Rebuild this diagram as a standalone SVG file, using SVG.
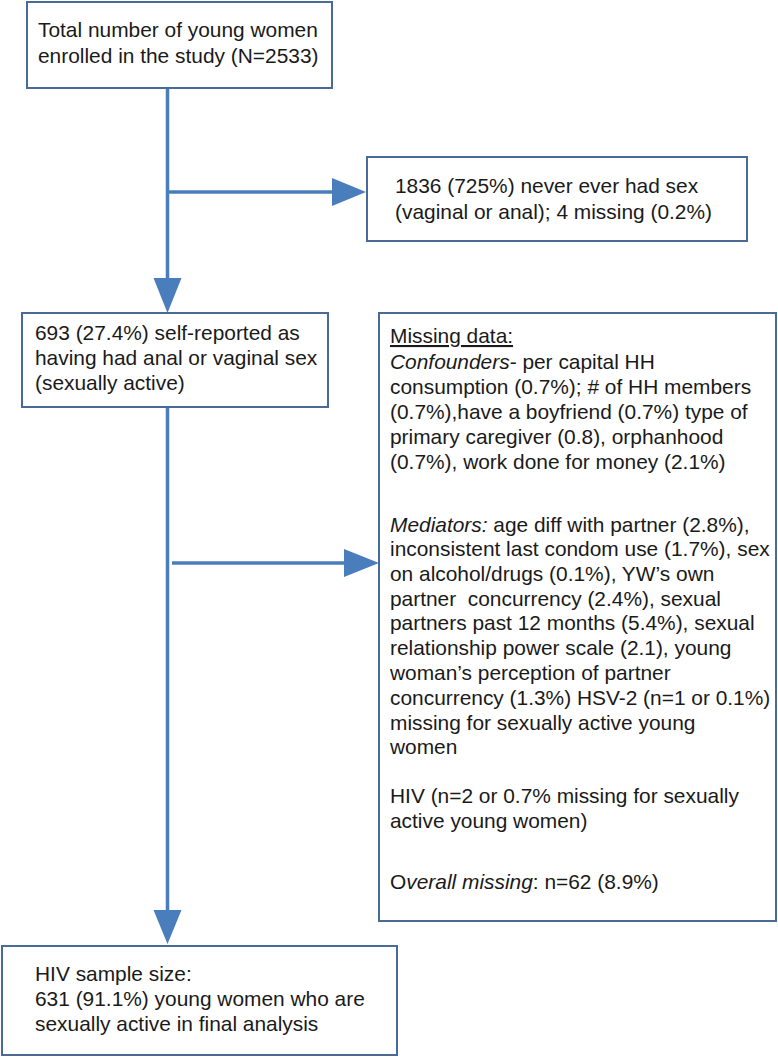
<svg xmlns="http://www.w3.org/2000/svg" width="778" height="1058" viewBox="0 0 778 1058">
<style>
.box{fill:#ffffff;stroke:#4a6b98;stroke-width:2}
.t{font-family:"Liberation Sans",Arial,sans-serif;font-size:20.9px;fill:#1a1a1a;white-space:pre}
.i{font-style:italic}
.ln{stroke:#4a7dbb;stroke-width:3.5;fill:none}
.ah{fill:#4a7dbb}
</style>
<rect width="778" height="1058" fill="#ffffff"/>
<g id="connectors">
<line class="ln" x1="167.5" y1="88" x2="167.5" y2="282"/>
<polygon class="ah" points="153.5,278 181.5,278 167.5,313"/>
<line class="ln" x1="168" y1="192" x2="336" y2="192"/>
<polygon class="ah" points="332,178 332,206 366,192"/>
<line class="ln" x1="167.5" y1="407" x2="167.5" y2="914"/>
<polygon class="ah" points="153.5,910 181.5,910 167.5,944"/>
<line class="ln" x1="172" y1="563" x2="348" y2="563"/>
<polygon class="ah" points="344,549 344,577 379,563"/>
</g>
<g id="n1">
<rect class="box" x="27" y="2" width="305" height="86"/>
<text class="t" x="38" y="37">Total number of young women</text>
<text class="t" x="38" y="63">enrolled in the study (N=2533)</text>
</g>
<g id="n2">
<rect class="box" x="367" y="157" width="380" height="84"/>
<text class="t" x="395" y="193">1836 (725%) never ever had sex</text>
<text class="t" x="395" y="219">(vaginal or anal); 4 missing (0.2%)</text>
</g>
<g id="n3">
<rect class="box" x="22" y="313" width="306" height="94"/>
<text class="t" x="35" y="340">693 (27.4%) self-reported as</text>
<text class="t" x="35" y="365">having had anal or vaginal sex</text>
<text class="t" x="35" y="390">(sexually active)</text>
</g>
<g id="n5">
<rect class="box" x="379" y="313" width="397" height="608"/>
<text class="t" x="390" y="343" text-decoration="underline">Missing data:</text>
<text class="t" x="390" y="369"><tspan class="i">Confounders</tspan>- per capital HH</text>
<text class="t" x="390" y="394">consumption (0.7%); # of HH members</text>
<text class="t" x="390" y="419">(0.7%),have a boyfriend (0.7%) type of</text>
<text class="t" x="390" y="444">primary caregiver (0.8), orphanhood</text>
<text class="t" x="390" y="469">(0.7%), work done for money (2.1%)</text>
<text class="t" x="390" y="532"><tspan class="i">Mediators:</tspan> age diff with partner (2.8%),</text>
<text class="t" x="390" y="556">inconsistent last condom use (1.7%), sex</text>
<text class="t" x="390" y="581">on alcohol/drugs (0.1%), YW’s own</text>
<text class="t" x="390" y="606">partner  concurrency (2.4%), sexual</text>
<text class="t" x="390" y="630">partners past 12 months (5.4%), sexual</text>
<text class="t" x="390" y="655">relationship power scale (2.1), young</text>
<text class="t" x="390" y="680">woman’s perception of partner</text>
<text class="t" x="390" y="705">concurrency (1.3%) HSV-2 (n=1 or 0.1%)</text>
<text class="t" x="390" y="730">missing for sexually active young</text>
<text class="t" x="390" y="754">women</text>
<text class="t" x="390" y="803">HIV (n=2 or 0.7% missing for sexually</text>
<text class="t" x="390" y="828">active young women)</text>
<text class="t" x="390" y="889">O<tspan class="i">verall missing</tspan>: n=62 (8.9%)</text>
</g>
<g id="n4">
<rect class="box" x="2" y="946" width="395" height="109"/>
<text class="t" x="35" y="981">HIV sample size:</text>
<text class="t" x="35" y="1006">631 (91.1%) young women who are</text>
<text class="t" x="35" y="1031">sexually active in final analysis</text>
</g>
</svg>
